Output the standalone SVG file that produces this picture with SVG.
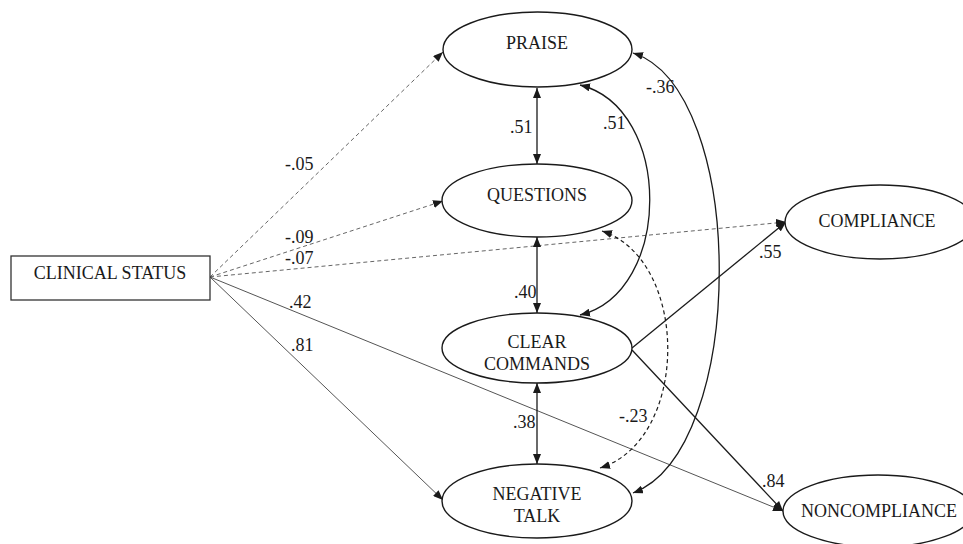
<svg xmlns="http://www.w3.org/2000/svg" width="963" height="544" viewBox="0 0 963 544">
<style>
text{font-family:'Liberation Serif',Tinos,'Times New Roman',Times,'DejaVu Serif','Noto Serif',serif;font-size:18px;fill:#1a1a1a}
.node{fill:#fff;stroke:#1a1a1a;stroke-width:1.4}
.c{text-anchor:middle}
.gs{stroke:#555;stroke-width:1;fill:none}
.gd{stroke:#666;stroke-width:1;fill:none;stroke-dasharray:4 3}
.bk{stroke:#1a1a1a;stroke-width:1.3;fill:none}
.bd{stroke:#1a1a1a;stroke-width:1.2;fill:none;stroke-dasharray:4 3}
</style>
<defs>
<marker id="ah" viewBox="0 0 10 8" refX="10" refY="4" markerWidth="10" markerHeight="8" markerUnits="userSpaceOnUse" orient="auto-start-reverse">
<path d="M0,0 L10,4 L0,8 Z" fill="#1a1a1a"/>
</marker>
</defs>
<g id="connectors">
<line class="gd" x1="210" y1="277" x2="443" y2="52" marker-end="url(#ah)"/>
<line class="gd" x1="210" y1="277" x2="443" y2="201" marker-end="url(#ah)"/>
<line class="gd" x1="210" y1="277" x2="786" y2="222" marker-end="url(#ah)"/>
<line class="gs" x1="210" y1="277" x2="783" y2="511" marker-end="url(#ah)"/>
<line class="gs" x1="210" y1="277" x2="443" y2="500" marker-end="url(#ah)"/>
<line class="bk" x1="537" y1="88" x2="537" y2="164" marker-start="url(#ah)" marker-end="url(#ah)"/>
<line class="bk" x1="537" y1="237" x2="537" y2="313" marker-start="url(#ah)" marker-end="url(#ah)"/>
<line class="bk" x1="537" y1="383" x2="537" y2="464" marker-start="url(#ah)" marker-end="url(#ah)"/>
<path class="bk" d="M580,85 C673,108 673,292 580,315" marker-start="url(#ah)" marker-end="url(#ah)"/>
<path class="bk" d="M633,53 C748,90 748,450 633,493" marker-start="url(#ah)" marker-end="url(#ah)"/>
<path class="bd" d="M602,231 C690,260 690,440 600,468" marker-start="url(#ah)" marker-end="url(#ah)"/>
<line class="bk" x1="632" y1="348" x2="786" y2="222" marker-end="url(#ah)"/>
<line class="bk" x1="632" y1="350" x2="783" y2="511" marker-end="url(#ah)"/>
<text x="285" y="170">-.05</text>
<text x="285" y="243">-.09</text>
<text x="285" y="264">-.07</text>
<text x="289" y="308">.42</text>
<text x="291" y="351">.81</text>
<text x="510" y="133">.51</text>
<text x="603" y="129">.51</text>
<text x="646" y="93">-.36</text>
<text x="514" y="298">.40</text>
<text x="513" y="428">.38</text>
<text x="619" y="422">-.23</text>
<text x="759" y="258">.55</text>
<text x="762" y="487">.84</text>
</g>
<g id="clinical-status">
<rect x="11" y="256" width="199" height="44" fill="#fff" stroke="#333" stroke-width="1.3"/>
<text class="c" x="110" y="279">CLINICAL STATUS</text>
</g>
<g id="praise">
<ellipse class="node" cx="537.5" cy="49.5" rx="94.5" ry="37.5"/>
<text class="c" x="537" y="49">PRAISE</text>
</g>
<g id="questions">
<ellipse class="node" cx="537" cy="200.5" rx="95" ry="36.5" stroke-width="1.7"/>
<text class="c" x="537" y="201">QUESTIONS</text>
</g>
<g id="clear-commands">
<ellipse class="node" cx="537" cy="348" rx="95" ry="35" stroke-width="1.7"/>
<text class="c" x="537" y="348">CLEAR</text>
<text class="c" x="537" y="370">COMMANDS</text>
</g>
<g id="negative-talk">
<ellipse class="node" cx="537" cy="501" rx="95" ry="37"/>
<text class="c" x="537" y="500">NEGATIVE</text>
<text class="c" x="537" y="522">TALK</text>
</g>
<g id="compliance">
<ellipse class="node" cx="880" cy="222" rx="95" ry="37"/>
<text class="c" x="877" y="227">COMPLIANCE</text>
</g>
<g id="noncompliance">
<ellipse class="node" cx="878" cy="511" rx="95" ry="36"/>
<text class="c" x="879" y="517">NONCOMPLIANCE</text>
</g>
</svg>
